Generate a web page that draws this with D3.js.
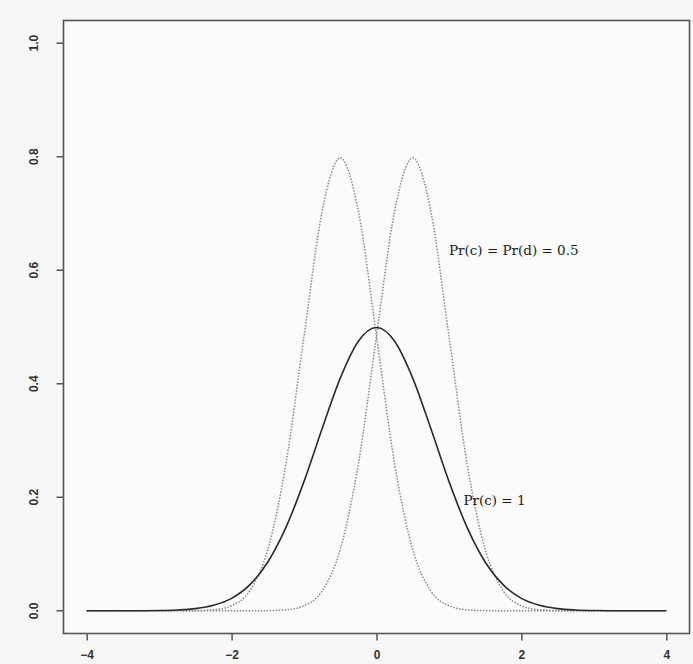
<!DOCTYPE html>
<html>
<head>
<meta charset="utf-8">
<script src="https://cdn.jsdelivr.net/npm/d3@7"></script>
<style>
html,body{margin:0;padding:0;background:#f7f7f7;}
svg{display:block;}
</style>
</head>
<body>
<script>
// x grid shared by all curves
const xs = [-4,-3.75,-3.5,-3.25,-3,-2.75,-2.5,-2.25,-2,-1.75,-1.5,-1.25,-1,-0.75,-0.5,-0.25,0,
            0.25,0.5,0.75,1,1.25,1.5,1.75,2,2.25,2.5,2.75,3,3.25,3.5,3.75,4];
// Pr(c) = 1 (solid)
const solidY = [0,0,0,0.0001,0.0004,0.0014,0.0038,0.0096,0.0219,0.0456,0.086,0.147,0.228,0.321,0.410,0.475,0.499,
                0.475,0.410,0.321,0.228,0.147,0.086,0.0456,0.0219,0.0096,0.0038,0.0014,0.0004,0.0001,0,0,0];
// Pr(c) = Pr(d) = 0.5 : component centred on -0.5 (dotted)
const dotLeft  = [0,0,0,0,0,0,0.0003,0.0017,0.0089,0.035,0.108,0.259,0.484,0.704,0.798,0.704,0.484,
                  0.259,0.108,0.035,0.0089,0.0017,0.0003,0,0,0,0,0,0,0,0,0,0];
// component centred on +0.5 (dotted)
const dotRight = [0,0,0,0,0,0,0,0,0,0,0.0003,0.0017,0.0089,0.035,0.108,0.259,0.484,
                  0.704,0.798,0.704,0.484,0.259,0.108,0.035,0.0089,0.0017,0.0003,0,0,0,0,0,0];
const xTicks = [-4,-2,0,2,4];
const yTicks = [0,0.2,0.4,0.6,0.8,1.0];
const labels = [
  {text:"Pr(c) = Pr(d) = 0.5", x:1.0, y:0.627},
  {text:"Pr(c) = 1", x:1.2, y:0.186}
];

const W = 693, H = 664;
const svg = d3.select("body").append("svg").attr("width",W).attr("height",H);

const x = d3.scaleLinear().domain([-4.32,4.32]).range([63.5,689.5]);
const y = d3.scaleLinear().domain([-0.04,1.04]).range([633.5,20.5]);

// plot area background
svg.append("rect").attr("x",x(-4.32)).attr("y",y(1.04))
  .attr("width",x(4.32)-x(-4.32)).attr("height",y(-0.04)-y(1.04))
  .attr("fill","#fbfbfb");

const line = (ys) => d3.line().x((d,i)=>x(xs[i])).y(d=>y(d)).curve(d3.curveMonotoneX)(ys);

svg.append("path").attr("d",line(dotLeft)).attr("fill","none")
  .attr("stroke","#8a8a8a").attr("stroke-width",1.5).attr("stroke-dasharray","1.5,1.5");
svg.append("path").attr("d",line(dotRight)).attr("fill","none")
  .attr("stroke","#8a8a8a").attr("stroke-width",1.5).attr("stroke-dasharray","1.5,1.5");
svg.append("path").attr("d",line(solidY)).attr("fill","none")
  .attr("stroke","#2a2a2a").attr("stroke-width",1.6);

// box
svg.append("rect").attr("x",x(-4.32)).attr("y",y(1.04))
  .attr("width",x(4.32)-x(-4.32)).attr("height",y(-0.04)-y(1.04))
  .attr("fill","none").attr("stroke","#555").attr("stroke-width",1.6);

// axes
const xAxis = d3.axisBottom(x).tickValues(xTicks).tickSize(7).tickPadding(10)
  .tickFormat(d=>d<0?"\u2212"+Math.abs(d):String(d));
const gx = svg.append("g").attr("transform",`translate(0,${y(-0.04)})`).call(xAxis);
gx.select(".domain").remove();
gx.selectAll("line").attr("stroke","#555").attr("stroke-width",1.5);
gx.selectAll("text").attr("font-family","Liberation Sans, Arial, sans-serif")
  .attr("font-size",12).attr("font-weight","bold").attr("fill","#333");

const gy = svg.append("g").attr("transform",`translate(${x(-4.32)},0)`);
gy.selectAll("line").data(yTicks).enter().append("line")
  .attr("x1",-7).attr("x2",0).attr("y1",d=>y(d)).attr("y2",d=>y(d))
  .attr("stroke","#555").attr("stroke-width",1.5);
gy.selectAll("text").data(yTicks).enter().append("text")
  .attr("transform",d=>`translate(-30,${y(d)}) rotate(-90)`)
  .attr("text-anchor","middle").attr("dy","0.35em")
  .attr("font-family","Liberation Sans, Arial, sans-serif")
  .attr("font-size",12).attr("font-weight","bold").attr("fill","#333")
  .text(d=>d.toFixed(1));

// annotations
svg.selectAll("text.ann").data(labels).enter().append("text").attr("class","ann")
  .attr("x",d=>x(d.x)).attr("y",d=>y(d.y))
  .attr("font-family","DejaVu Serif, serif").attr("font-size",13.5)
  .attr("fill","#1a1a1a").text(d=>d.text);
</script>
</body>
</html>
